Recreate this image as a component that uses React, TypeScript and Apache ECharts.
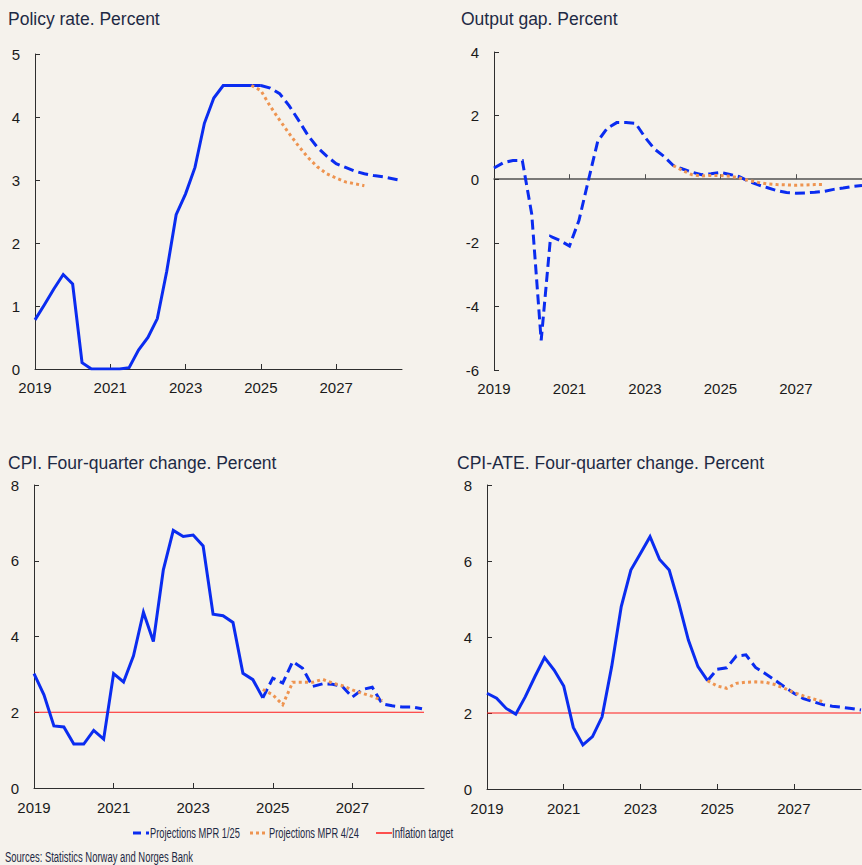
import React, { useEffect, useRef } from "react";
import * as echarts from "echarts";

// ---------- Data (quarterly) ----------
const BASE_YEAR = 2019;
const YEAR_LABEL_VALUES = [0, 2, 4, 6, 8]; // years after 2019 -> 2019, 2021, ..., 2027
const YEAR_TICK_VALUES = [2, 4, 6, 8];

// Policy rate. Percent
const policyRateHistoryStart = "2019Q1";
const policyRateHistory = [
  0.78, 1.02, 1.27, 1.5,
  1.35, 0.1, 0, 0,
  0, 0, 0.02, 0.3,
  0.5, 0.8, 1.55, 2.45,
  2.78, 3.2, 3.9, 4.3,
  4.5, 4.5, 4.5, 4.5,
  4.5,
];
const policyRateMPR125Start = "2025Q1";
const policyRateMPR125 = [
  4.5, 4.46, 4.37, 4.18, 3.95, 3.71, 3.52, 3.38, 3.26, 3.2, 3.14, 3.1, 3.07, 3.05, 3.02, 2.99,
];
const policyRateMPR424Start = "2024Q4";
const policyRateMPR424 = [
  4.5, 4.42, 4.17, 3.95, 3.74, 3.54, 3.36, 3.21, 3.1, 3.03, 2.97, 2.94, 2.91,
];

// Output gap. Percent
const outputGapMPR125Start = "2019Q1";
const outputGapMPR125 = [
  0.35, 0.52, 0.59, 0.59,
  -1.1, -5.07, -1.8, -1.93,
  -2.1, -1.3, -0.04, 1.2,
  1.6, 1.78, 1.78, 1.76,
  1.32, 0.95, 0.72, 0.43,
  0.32, 0.22, 0.14, 0.17,
  0.21, 0.15, 0.08, -0.07,
  -0.18, -0.27, -0.36, -0.42,
  -0.44, -0.43, -0.41, -0.38,
  -0.32, -0.28, -0.23, -0.2,
];
const outputGapMPR424Start = "2023Q4";
const outputGapMPR424 = [
  0.43, 0.27, 0.14, 0.1, 0.12, 0.12, 0.09, 0.04, -0.04, -0.1, -0.15, -0.17, -0.18, -0.19, -0.18, -0.17, -0.17,
];

// CPI. Four-quarter change. Percent
const cpiHistoryStart = "2019Q1";
const cpiHistory = [
  3.02, 2.46, 1.64, 1.61,
  1.16, 1.16, 1.52, 1.29,
  3.02, 2.8, 3.49, 4.64,
  3.87, 5.76, 6.8, 6.64,
  6.68, 6.39, 4.59, 4.55,
  4.37, 3.03, 2.86, 2.38,
];
const cpiMPR125Start = "2024Q4";
const cpiMPR125 = [
  2.38, 2.9, 2.77, 3.34, 3.16, 2.68, 2.75, 2.74, 2.68, 2.4, 2.6, 2.66, 2.22, 2.17, 2.14, 2.14, 2.09,
];
const cpiMPR424Start = "2024Q4";
const cpiMPR424 = [
  2.6, 2.46, 2.2, 2.79, 2.79, 2.79, 2.87, 2.77, 2.7, 2.59, 2.5, 2.42, 2.31,
];

// CPI-ATE. Four-quarter change. Percent
const cpiAteHistoryStart = "2019Q1";
const cpiAteHistory = [
  2.52, 2.39, 2.12, 1.97,
  2.43, 2.96, 3.46, 3.13,
  2.71, 1.62, 1.16, 1.38,
  1.9, 3.22, 4.8, 5.76,
  6.2, 6.64, 6.04, 5.76,
  4.89, 3.92, 3.22, 2.85,
];
const cpiAteMPR125Start = "2024Q4";
const cpiAteMPR125 = [
  2.85, 3.15, 3.19, 3.5, 3.53, 3.2, 3.04, 2.87, 2.69, 2.52, 2.38, 2.3, 2.22, 2.18, 2.15, 2.12, 2.08,
];
const cpiAteMPR424Start = "2024Q4";
const cpiAteMPR424 = [
  2.85, 2.71, 2.65, 2.78, 2.81, 2.82, 2.81, 2.75, 2.65, 2.54, 2.45, 2.37, 2.3,
];

const INFLATION_TARGET = 2;

const panelTitles = [
  "Policy rate. Percent",
  "Output gap. Percent",
  "CPI. Four-quarter change. Percent",
  "CPI-ATE. Four-quarter change. Percent",
];
const legendNames = ["Projections MPR 1/25", "Projections MPR 4/24", "Inflation target"];
const sourceText = "Sources: Statistics Norway and Norges Bank";

// ---------- Styles ----------
const FONT = "'Liberation Sans', Arial, sans-serif";
const BG = "#f5f2ec";
const BLUE = "#0a2cf0";
const ORANGE = "#ee9450";
const RED = "#ff1a1a";
const AXIS = "#2e2e2e";
const TEXT = "#1a1a1a";
const TITLE = "#1e2a44";
const DASH = [10, 5];
const DOT = [3, 3.2];

// x extents (years after 2019) of each panel
const X_MAX = [9.75, 9.75, 9.8, 9.75];

function toPoints(start: string, values: number[]) {
  const [y, q] = start.split("Q").map(Number);
  const t0 = y - BASE_YEAR + (q - 1) / 4;
  return values.map((v, i) => [t0 + i / 4, v]);
}

function yAxisCfg(gridIndex: number, min: number, max: number, interval: number) {
  return {
    type: "value",
    gridIndex,
    min,
    max,
    interval,
    axisLine: { show: true, onZero: false, lineStyle: { color: AXIS, width: 1 } },
    axisTick: { show: true, inside: true, length: 5, lineStyle: { color: AXIS, width: 1 } },
    axisLabel: { margin: 15, fontSize: 15, color: TEXT, fontFamily: FONT },
    splitLine: { show: false },
  };
}

function xAxisCfg(
  gridIndex: number,
  max: number,
  opts: { line: boolean; labels: boolean; onZero: boolean; margin?: number; lineWidth?: number; lineColor?: string }
) {
  return {
    type: "value",
    gridIndex,
    min: 0,
    max,
    interval: 2,
    position: "bottom",
    axisLine: {
      show: opts.line,
      onZero: opts.onZero,
      lineStyle: { color: opts.lineColor || AXIS, width: opts.lineWidth || 1 },
    },
    axisTick: {
      show: opts.line,
      inside: true,
      length: 5,
      customValues: YEAR_TICK_VALUES,
      lineStyle: { color: opts.lineColor || AXIS, width: 1 },
    },
    axisLabel: {
      show: opts.labels,
      customValues: YEAR_LABEL_VALUES,
      formatter: (v: number) => String(BASE_YEAR + Math.round(v)),
      margin: opts.margin ?? 11,
      fontSize: 15,
      color: TEXT,
      fontFamily: FONT,
    },
    splitLine: { show: false },
  };
}

function lineSeries(
  name: string,
  xAxisIndex: number,
  yAxisIndex: number,
  data: number[][],
  color: string,
  type: any,
  z: number,
  width = 3
) {
  return {
    type: "line",
    name,
    xAxisIndex,
    yAxisIndex,
    data,
    symbol: "none",
    showSymbol: false,
    z,
    lineStyle: { color, width, type, cap: "butt", join: "miter" },
    itemStyle: { color },
    silent: true,
  };
}

function targetPoints(xMax: number) {
  return [
    [0, INFLATION_TARGET],
    [xMax, INFLATION_TARGET],
  ];
}

function legendText(text: string, x: number, y: number, scaleX: number) {
  return {
    type: "text",
    x,
    y,
    scaleX,
    style: {
      text,
      fontSize: 15.5,
      fontFamily: FONT,
      fill: TITLE,
      textVerticalAlign: "middle",
      verticalAlign: "middle",
    },
  };
}

function buildOption() {
  const titleStyle = { fontSize: 17.5, fontWeight: "normal", color: TITLE, fontFamily: FONT };
  const titlePos = [
    { left: 8, top: 10 },
    { left: 461, top: 10 },
    { left: 8, top: 454 },
    { left: 457, top: 454 },
  ];
  return {
    animation: false,
    backgroundColor: BG,
    title: panelTitles.map((t, i) => ({
      text: t,
      ...titlePos[i],
      padding: 0,
      textStyle: titleStyle,
    })),
    grid: [
      { left: 35, top: 54, width: 367, height: 315 },
      { left: 494, top: 52, width: 368, height: 318 },
      { left: 34, top: 485, width: 390, height: 303 },
      { left: 487, top: 485, width: 374, height: 304 },
    ],
    xAxis: [
      xAxisCfg(0, X_MAX[0], { line: true, labels: true, onZero: true, margin: 11 }),
      xAxisCfg(1, X_MAX[1], { line: true, labels: false, onZero: true, lineWidth: 1.5, lineColor: "#505050" }),
      xAxisCfg(1, X_MAX[1], { line: false, labels: true, onZero: false, margin: 11 }),
      xAxisCfg(2, X_MAX[2], { line: true, labels: true, onZero: true, margin: 12 }),
      xAxisCfg(3, X_MAX[3], { line: true, labels: true, onZero: true, margin: 12 }),
    ],
    yAxis: [
      yAxisCfg(0, 0, 5, 1),
      yAxisCfg(1, -6, 4, 2),
      yAxisCfg(2, 0, 8, 2),
      yAxisCfg(3, 0, 8, 2),
    ],
    series: [
      // Policy rate
      lineSeries("Policy rate", 0, 0, toPoints(policyRateHistoryStart, policyRateHistory), BLUE, "solid", 3),
      lineSeries(legendNames[0], 0, 0, toPoints(policyRateMPR125Start, policyRateMPR125), BLUE, DASH, 3),
      lineSeries(legendNames[1], 0, 0, toPoints(policyRateMPR424Start, policyRateMPR424), ORANGE, DOT, 4),
      // Output gap
      lineSeries(legendNames[0], 1, 1, toPoints(outputGapMPR125Start, outputGapMPR125), BLUE, DASH, 3),
      lineSeries(legendNames[1], 1, 1, toPoints(outputGapMPR424Start, outputGapMPR424), ORANGE, DOT, 4),
      // CPI
      lineSeries(legendNames[2], 3, 2, targetPoints(X_MAX[2]), RED, "solid", 2, 1),
      lineSeries("CPI", 3, 2, toPoints(cpiHistoryStart, cpiHistory), BLUE, "solid", 3),
      lineSeries(legendNames[0], 3, 2, toPoints(cpiMPR125Start, cpiMPR125), BLUE, DASH, 3),
      lineSeries(legendNames[1], 3, 2, toPoints(cpiMPR424Start, cpiMPR424), ORANGE, DOT, 4),
      // CPI-ATE
      lineSeries(legendNames[2], 4, 3, targetPoints(X_MAX[3]), RED, "solid", 2, 1),
      lineSeries("CPI-ATE", 4, 3, toPoints(cpiAteHistoryStart, cpiAteHistory), BLUE, "solid", 3),
      lineSeries(legendNames[0], 4, 3, toPoints(cpiAteMPR125Start, cpiAteMPR125), BLUE, DASH, 3),
      lineSeries(legendNames[1], 4, 3, toPoints(cpiAteMPR424Start, cpiAteMPR424), ORANGE, DOT, 4),
    ],
    graphic: [
      // legend
      { type: "line", shape: { x1: 133, y1: 833, x2: 149, y2: 833 }, style: { stroke: BLUE, lineWidth: 3, lineDash: [8, 5] } },
      legendText(legendNames[0], 150, 833, 0.6),
      { type: "line", shape: { x1: 250, y1: 833, x2: 268, y2: 833 }, style: { stroke: ORANGE, lineWidth: 3, lineDash: [3, 3] } },
      legendText(legendNames[1], 269, 833, 0.6),
      { type: "line", shape: { x1: 376, y1: 833, x2: 392, y2: 833 }, style: { stroke: RED, lineWidth: 1.5 } },
      legendText(legendNames[2], 392, 833, 0.625),
      // sources
      legendText(sourceText, 5, 857, 0.61),
    ],
  };
}

export default function App() {
  const ref = useRef<HTMLDivElement>(null);
  useEffect(() => {
    if (!ref.current) return;
    const chart = echarts.init(ref.current, undefined, { renderer: "svg" });
    chart.setOption(buildOption() as any);
    return () => chart.dispose();
  }, []);
  return (
    <div
      ref={ref}
      style={{ position: "absolute", left: 0, top: 0, width: 862, height: 865, background: BG }}
    />
  );
}
